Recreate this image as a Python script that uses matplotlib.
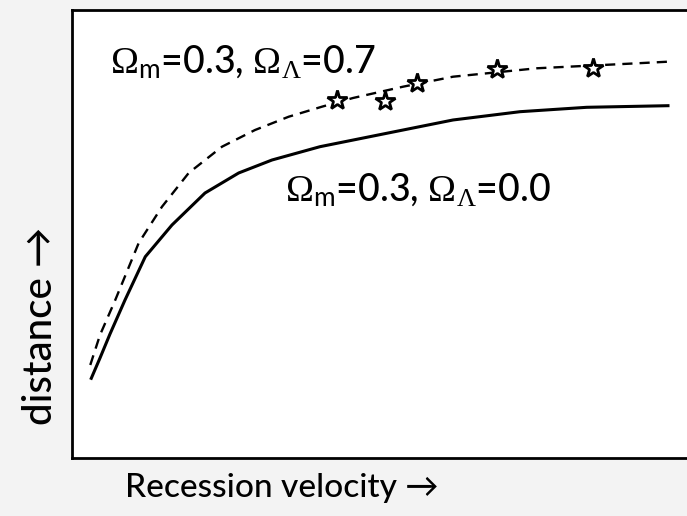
import matplotlib.pyplot as plt

# curves (arbitrary units, axes span 0..1)
x_flat = [0.0307, 0.0446, 0.0605, 0.0844, 0.1167, 0.1592, 0.2118, 0.2654, 0.3185,
          0.3949, 0.5011, 0.6067, 0.7134, 0.8196, 0.9490]
d_flat = [0.1779, 0.2232, 0.2768, 0.3527, 0.4493, 0.5201, 0.5915, 0.6362, 0.6652,
          0.6949, 0.7248, 0.7545, 0.7730, 0.7828, 0.7864]

x_lam = [0.0291, 0.0446, 0.0689, 0.1062, 0.1433, 0.1858, 0.2389, 0.2914, 0.3451,
         0.3981, 0.4475, 0.5271, 0.6067, 0.7400, 0.8992, 0.9490]
d_lam = [0.2076, 0.2746, 0.3527, 0.4799, 0.5609, 0.6362, 0.6949, 0.7321, 0.7618,
         0.7842, 0.8036, 0.8288, 0.8511, 0.8699, 0.8810, 0.8846]

# supernova points
x_sn = [0.4215, 0.4984, 0.5489, 0.6763, 0.8301]
d_sn = [0.7991, 0.7969, 0.8377, 0.8676, 0.8699]

label_lam = r"$\Omega_{\mathsf{m}}$=0.3, $\Omega_{\Lambda}$=0.7"
label_flat = r"$\Omega_{\mathsf{m}}$=0.3, $\Omega_{\Lambda}$=0.0"

plt.rcParams['font.family'] = ['Lato', 'DejaVu Sans']
plt.rcParams['mathtext.fontset'] = 'custom'
plt.rcParams['mathtext.rm'] = 'Liberation Serif'
plt.rcParams['mathtext.it'] = 'Liberation Serif:italic'
plt.rcParams['mathtext.sf'] = 'Lato'

fig = plt.figure(figsize=(6.87, 5.16), dpi=100, facecolor='#f3f3f3')
ax = fig.add_axes([72/687, 58/516, 628/687, 448/516])
ax.set_facecolor('white')

ax.plot(x_flat, d_flat, color='black', lw=2.2)
ax.plot(x_lam, d_lam, color='black', lw=1.7, ls=(0, (4.3, 3)))
ax.plot(x_sn, d_sn, ls='none', marker='*', markersize=15, mfc='white', mec='black', mew=2)

ax.text((110-72)/628, (458-73)/448, label_lam, fontsize=27, fontweight='medium',
        va='baseline', transform=ax.transAxes)
ax.text((285-72)/628, (458-201)/448, label_flat, fontsize=27, fontweight='medium',
        va='baseline', transform=ax.transAxes)

ax.set_xlim(0, 1)
ax.set_ylim(0, 1)
ax.set_xticks([])
ax.set_yticks([])
for s in ax.spines.values():
    s.set_linewidth(2)

fig.text(125/687, (516-497)/516, "Recession velocity \u2192", fontsize=24,
         fontweight='medium', ha='left', va='baseline')
fig.text(52/687, (516-425)/516, "distance \u2192", fontsize=29, fontweight='medium',
         rotation=90, ha='left', va='baseline', rotation_mode='anchor')

fig.savefig("out.png", dpi=100, facecolor=fig.get_facecolor())
